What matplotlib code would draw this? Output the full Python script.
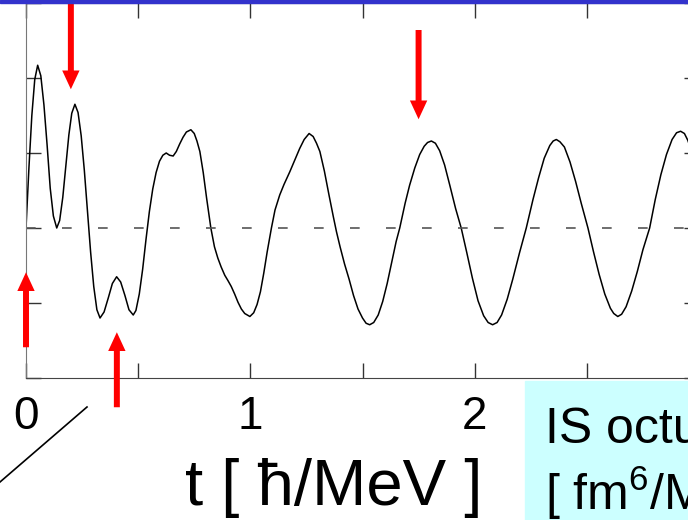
import numpy as np
import matplotlib.pyplot as plt
from matplotlib.lines import Line2D
from matplotlib.patches import Rectangle

plt.rcParams['font.family'] = ['Liberation Sans', 'DejaVu Sans']
plt.rcParams['mathtext.fontset'] = 'custom'
plt.rcParams['mathtext.rm'] = 'Liberation Sans'

# time [hbar/MeV] and strength
t = [0.000, 0.013, 0.026, 0.039, 0.052, 0.066, 0.080, 0.094, 0.108, 0.122,
     0.137, 0.150, 0.164, 0.177, 0.191, 0.204, 0.218, 0.232, 0.246, 0.260,
     0.274, 0.288, 0.302, 0.316, 0.330, 0.348, 0.367, 0.385, 0.404, 0.422,
     0.441, 0.459, 0.478, 0.490, 0.505, 0.520, 0.535, 0.550, 0.565, 0.580,
     0.595, 0.610, 0.625, 0.640, 0.656, 0.670, 0.685, 0.700, 0.715, 0.735,
     0.750, 0.762, 0.775, 0.790, 0.805, 0.824, 0.840, 0.855, 0.870, 0.886,
     0.900, 0.915, 0.930, 0.945, 0.960, 0.975, 0.998, 1.015, 1.030, 1.045,
     1.060, 1.075, 1.094, 1.110, 1.131, 1.150, 1.176, 1.200, 1.220, 1.240,
     1.262, 1.280, 1.295, 1.310, 1.330, 1.350, 1.370, 1.384, 1.400, 1.420,
     1.440, 1.460, 1.480, 1.500, 1.516, 1.532, 1.550, 1.570, 1.590, 1.610,
     1.630, 1.650, 1.666, 1.690, 1.710, 1.733, 1.755, 1.775, 1.790, 1.807,
     1.825, 1.844, 1.866, 1.890, 1.915, 1.940, 1.965, 1.990, 2.015, 2.040,
     2.060, 2.080, 2.100, 2.120, 2.145, 2.170, 2.200, 2.230, 2.260, 2.285,
     2.310, 2.335, 2.350, 2.364, 2.380, 2.400, 2.425, 2.450, 2.475, 2.505,
     2.530, 2.555, 2.580, 2.605, 2.620, 2.638, 2.655, 2.675, 2.700, 2.725,
     2.750, 2.780, 2.805, 2.830, 2.855, 2.880, 2.900, 2.918, 2.935, 2.950,
     2.970, 3.000]
s = [0.00, 0.80, 1.50, 1.98, 2.17, 2.03, 1.64, 1.11, 0.53, 0.16,
     0.00, 0.10, 0.41, 0.81, 1.24, 1.53, 1.65, 1.54, 1.23, 0.77,
     0.22, -0.32, -0.78, -1.09, -1.20, -1.12, -0.93, -0.74, -0.65, -0.72,
     -0.90, -1.09, -1.16, -1.10, -0.88, -0.55, -0.15, 0.22, 0.52, 0.74,
     0.89, 0.97, 1.00, 0.97, 0.96, 1.02, 1.12, 1.21, 1.28, 1.31,
     1.26, 1.16, 1.02, 0.74, 0.40, 0.00, -0.25, -0.40, -0.52, -0.63,
     -0.70, -0.78, -0.88, -0.99, -1.08, -1.14, -1.18, -1.13, -1.02, -0.85,
     -0.60, -0.32, 0.00, 0.24, 0.44, 0.58, 0.75, 0.92, 1.06, 1.18,
     1.26, 1.22, 1.13, 1.02, 0.76, 0.45, 0.15, -0.05, -0.25, -0.48,
     -0.68, -0.90, -1.08, -1.20, -1.27, -1.29, -1.26, -1.16, -0.98, -0.74,
     -0.46, -0.18, 0.00, 0.33, 0.57, 0.80, 0.98, 1.09, 1.14, 1.16,
     1.13, 1.03, 0.84, 0.56, 0.26, 0.00, -0.33, -0.67, -0.97, -1.17,
     -1.26, -1.29, -1.26, -1.16, -0.95, -0.68, -0.33, 0.00, 0.38, 0.67,
     0.93, 1.10, 1.16, 1.18, 1.15, 1.08, 0.88, 0.62, 0.33, 0.00,
     -0.32, -0.62, -0.88, -1.07, -1.14, -1.18, -1.15, -1.05, -0.84, -0.58,
     -0.29, 0.00, 0.38, 0.71, 0.98, 1.18, 1.27, 1.29, 1.26, 1.17,
     1.00, 0.65]

xticks = [0, 0.5, 1, 1.5, 2, 2.5, 3]
xticklabels = ['0', '', '1', '', '2', '', '']

fig = plt.figure(figsize=(6.88, 5.2), dpi=100)
ax = fig.add_axes([26/688, 142/520, 673/688, 375/520])

ax.plot(t, s, color='black', lw=1.1)
ax.axhline(0, color='#555555', lw=1.2, dashes=(5.8, 15.8))

ax.set_xlim(0, 3)
ax.set_ylim(-2, 3)
ax.set_xticks(xticks)
ax.set_xticklabels(xticklabels)
ax.set_yticks(range(-2, 4))
ax.set_yticklabels([])
ax.tick_params(direction='in', length=10.8, width=1, colors='#333333',
               top=True, right=True, labelsize=33, pad=12, labelcolor='black')
for side in ['left', 'right', 'top', 'bottom']:
    ax.spines[side].set_color('#444444')
ax.spines['left'].set_color('#777777')

ax.set_xlabel('t [ ħ/MeV ]', fontsize=47)
ax.xaxis.label.set_va('baseline')
ax.xaxis.set_label_coords(308/673, -127/375)

# red arrows
arrows = [((0.2, 1.85), (0.2, 3.2)), ((1.75, 1.45), (1.75, 2.64)),
          ((0.0, -0.59), (0.0, -1.59)), ((0.405, -1.39), (0.405, -2.39))]
for tip, tail in arrows:
    ax.annotate('', xy=tip, xytext=tail, annotation_clip=False,
                arrowprops=dict(facecolor='red', edgecolor='none', width=4.3,
                                headwidth=12.5, headlength=13.5, shrink=0))

# blue band at top
fig.patches.append(Rectangle((0, 517/520), 1, 3/520, transform=fig.transFigure,
                             color='#3333cc', zorder=5))
# cyan box with label
fig.patches.append(Rectangle((525/688, 0), 1, 139/520, transform=fig.transFigure,
                             color='#ccffff', zorder=1))
fig.text(545/688, (520-443)/520, 'IS octupole', fontsize=36, va='baseline')
fig.text(545/688, (520-510)/520, r'[ fm$^{6}$/MeV ]', fontsize=36, va='baseline')

# diagonal line bottom left
fig.lines.append(Line2D([0, 87/688], [38/520, 113/520], transform=fig.transFigure,
                        color='black', lw=1.2))

fig.savefig('out.png', dpi=100)
